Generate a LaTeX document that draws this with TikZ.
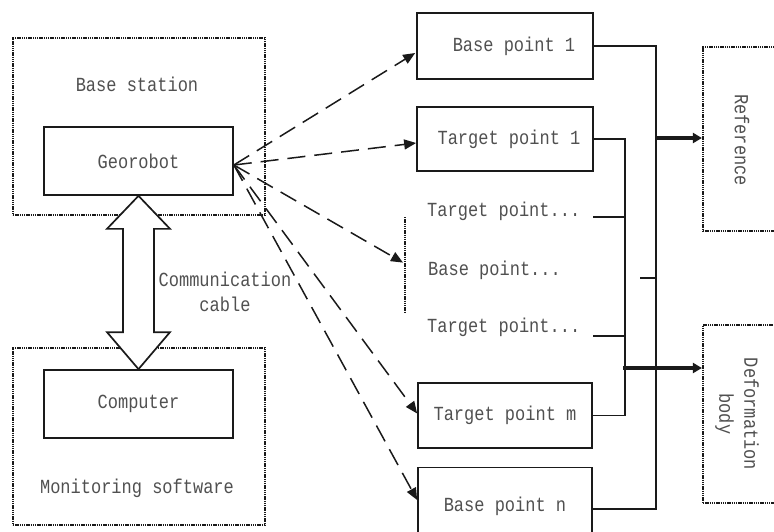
\documentclass[tikz,border=0pt]{standalone}
\usepackage{fontspec}
\setmainfont{Liberation Mono}[FakeStretch=0.85]
\usetikzlibrary{arrows.meta,calc}
\definecolor{ink}{HTML}{1A1A1A}
\definecolor{txt}{HTML}{505050}
\begin{document}
\begin{tikzpicture}[x=1pt,y=-1pt,
  font=\fontsize{20}{25}\selectfont,
  box/.style={draw=ink, line width=1.7pt, text=txt, inner sep=0pt},
  dotbox/.style={draw=ink, line width=2.2pt, dash pattern=on 1.4pt off 0.8pt, inner sep=0pt},
  lbl/.style={text=txt, inner sep=0pt},
  link/.style={draw=ink, line width=1.5pt},
  ray/.style={draw=ink, line width=1.5pt, dash pattern=on 18pt off 9pt, -{Triangle[length=12pt,width=10pt]}},
  feed/.style={draw=ink, line width=3.2pt, -{Triangle[length=9pt,width=10pt]}}]
\useasboundingbox (0,0) rectangle (774,532);
\clip (0,0) rectangle (774,532);
% left side
\node[dotbox, minimum width=252, minimum height=177] (bs) at (139,126.5) {};
\node[lbl] (bslbl) at (137,84) {Base station};
\node[box, minimum width=189, minimum height=68] (geo) at (138.5,161) {Georobot};
\node[dotbox, minimum width=252, minimum height=177] (mon) at (139,436.5) {};
\node[box, minimum width=189, minimum height=68] (comp) at (138.5,404) {Computer};
\node[lbl] (monlbl) at (137,488) {Monitoring software};
% double arrow (communication cable)
\draw[draw=ink, line width=1.7pt, fill=white]
  (geo.south) -- ++(31.5,33) -- ++(-16,0) -- ($(comp.north)+(15.5,-37)$) -- ++(16,0)
  -- (comp.north) -- ++(-31.5,-37) -- ++(16,0) -- ($(geo.south)+(-15.5,33)$) -- ++(-16,0) -- cycle;
\node[lbl, align=center] (cable) at (225,292) {Communication\\cable};
% right side boxes
\node[box, minimum width=176, minimum height=66] (bp1) at (505,46) {\hspace*{18pt}Base point 1};
\node[box, minimum width=176, minimum height=64] (tp1) at (505,139) {\hspace*{8pt}Target point 1};
\node[lbl, anchor=west] (tpd1) at (427,211) {Target point...};
\node[lbl, anchor=west] (bpd) at (428,270) {Base point...};
\node[lbl, anchor=west] (tpd2) at (427,327) {Target point...};
\node[box, minimum width=174, minimum height=65] (tpm) at (505,415.5) {Target point m};
\node[box, minimum width=174, minimum height=77] (bpn) at (505,506) {\raisebox{4pt}{Base point n}};
\node[dotbox, minimum width=90, minimum height=184] (ref) at (748,139) {};
\node[lbl, rotate=-90] (reflbl) at (742,140) {Reference};
\node[dotbox, minimum width=90, minimum height=178] (def) at (748,414) {};
\node[lbl, rotate=-90, align=center] (deflbl) at (737,414) {Deformation\\body};
% dotted bar for the middle points
\coordinate (vtop) at (405,217);
\coordinate (vbot) at (405,312);
\draw[draw=ink, line width=2.2pt, dash pattern=on 1.4pt off 0.8pt] (vtop) -- (vbot);
% buses
\coordinate (busA) at (625,0);
\coordinate (busB) at (656,0);
\draw[link] (bp1.east) -- (bp1.east -| busB) -- ($(bpn.east -| busB)+(0,3)$) -- ($(bpn.east)+(0,3)$);
\draw[link] (tp1.east) -- (tp1.east -| busA) -- (tpm.east -| busA) -- (tpm.east);
\draw[link] (593,217) -- (625,217);
\draw[link] (640,278) -- (656,278);
\draw[link] (593,336) -- (625,336);
% outputs
\draw[feed] (655,138) -- (ref.west |- 0,138);
\draw[feed] (623,368) -- (def.west |- 0,368);
% measuring rays
\coordinate (src) at ($(geo.east)+(0,4)$);
\draw[ray] (src) -- ($(bp1.west)+(-1,7)$);
\draw[ray] (src) -- ($(tp1.west)+(0,4)$);
\draw[ray] (src) -- ($(vtop)!0.48!(vbot)+(-2,0)$);
\draw[ray] (src) -- ($(tpm.west)+(0,-2)$);
\draw[ray] (src) -- ($(bpn.west)+(0,-6)$);
\end{tikzpicture}
\end{document}
